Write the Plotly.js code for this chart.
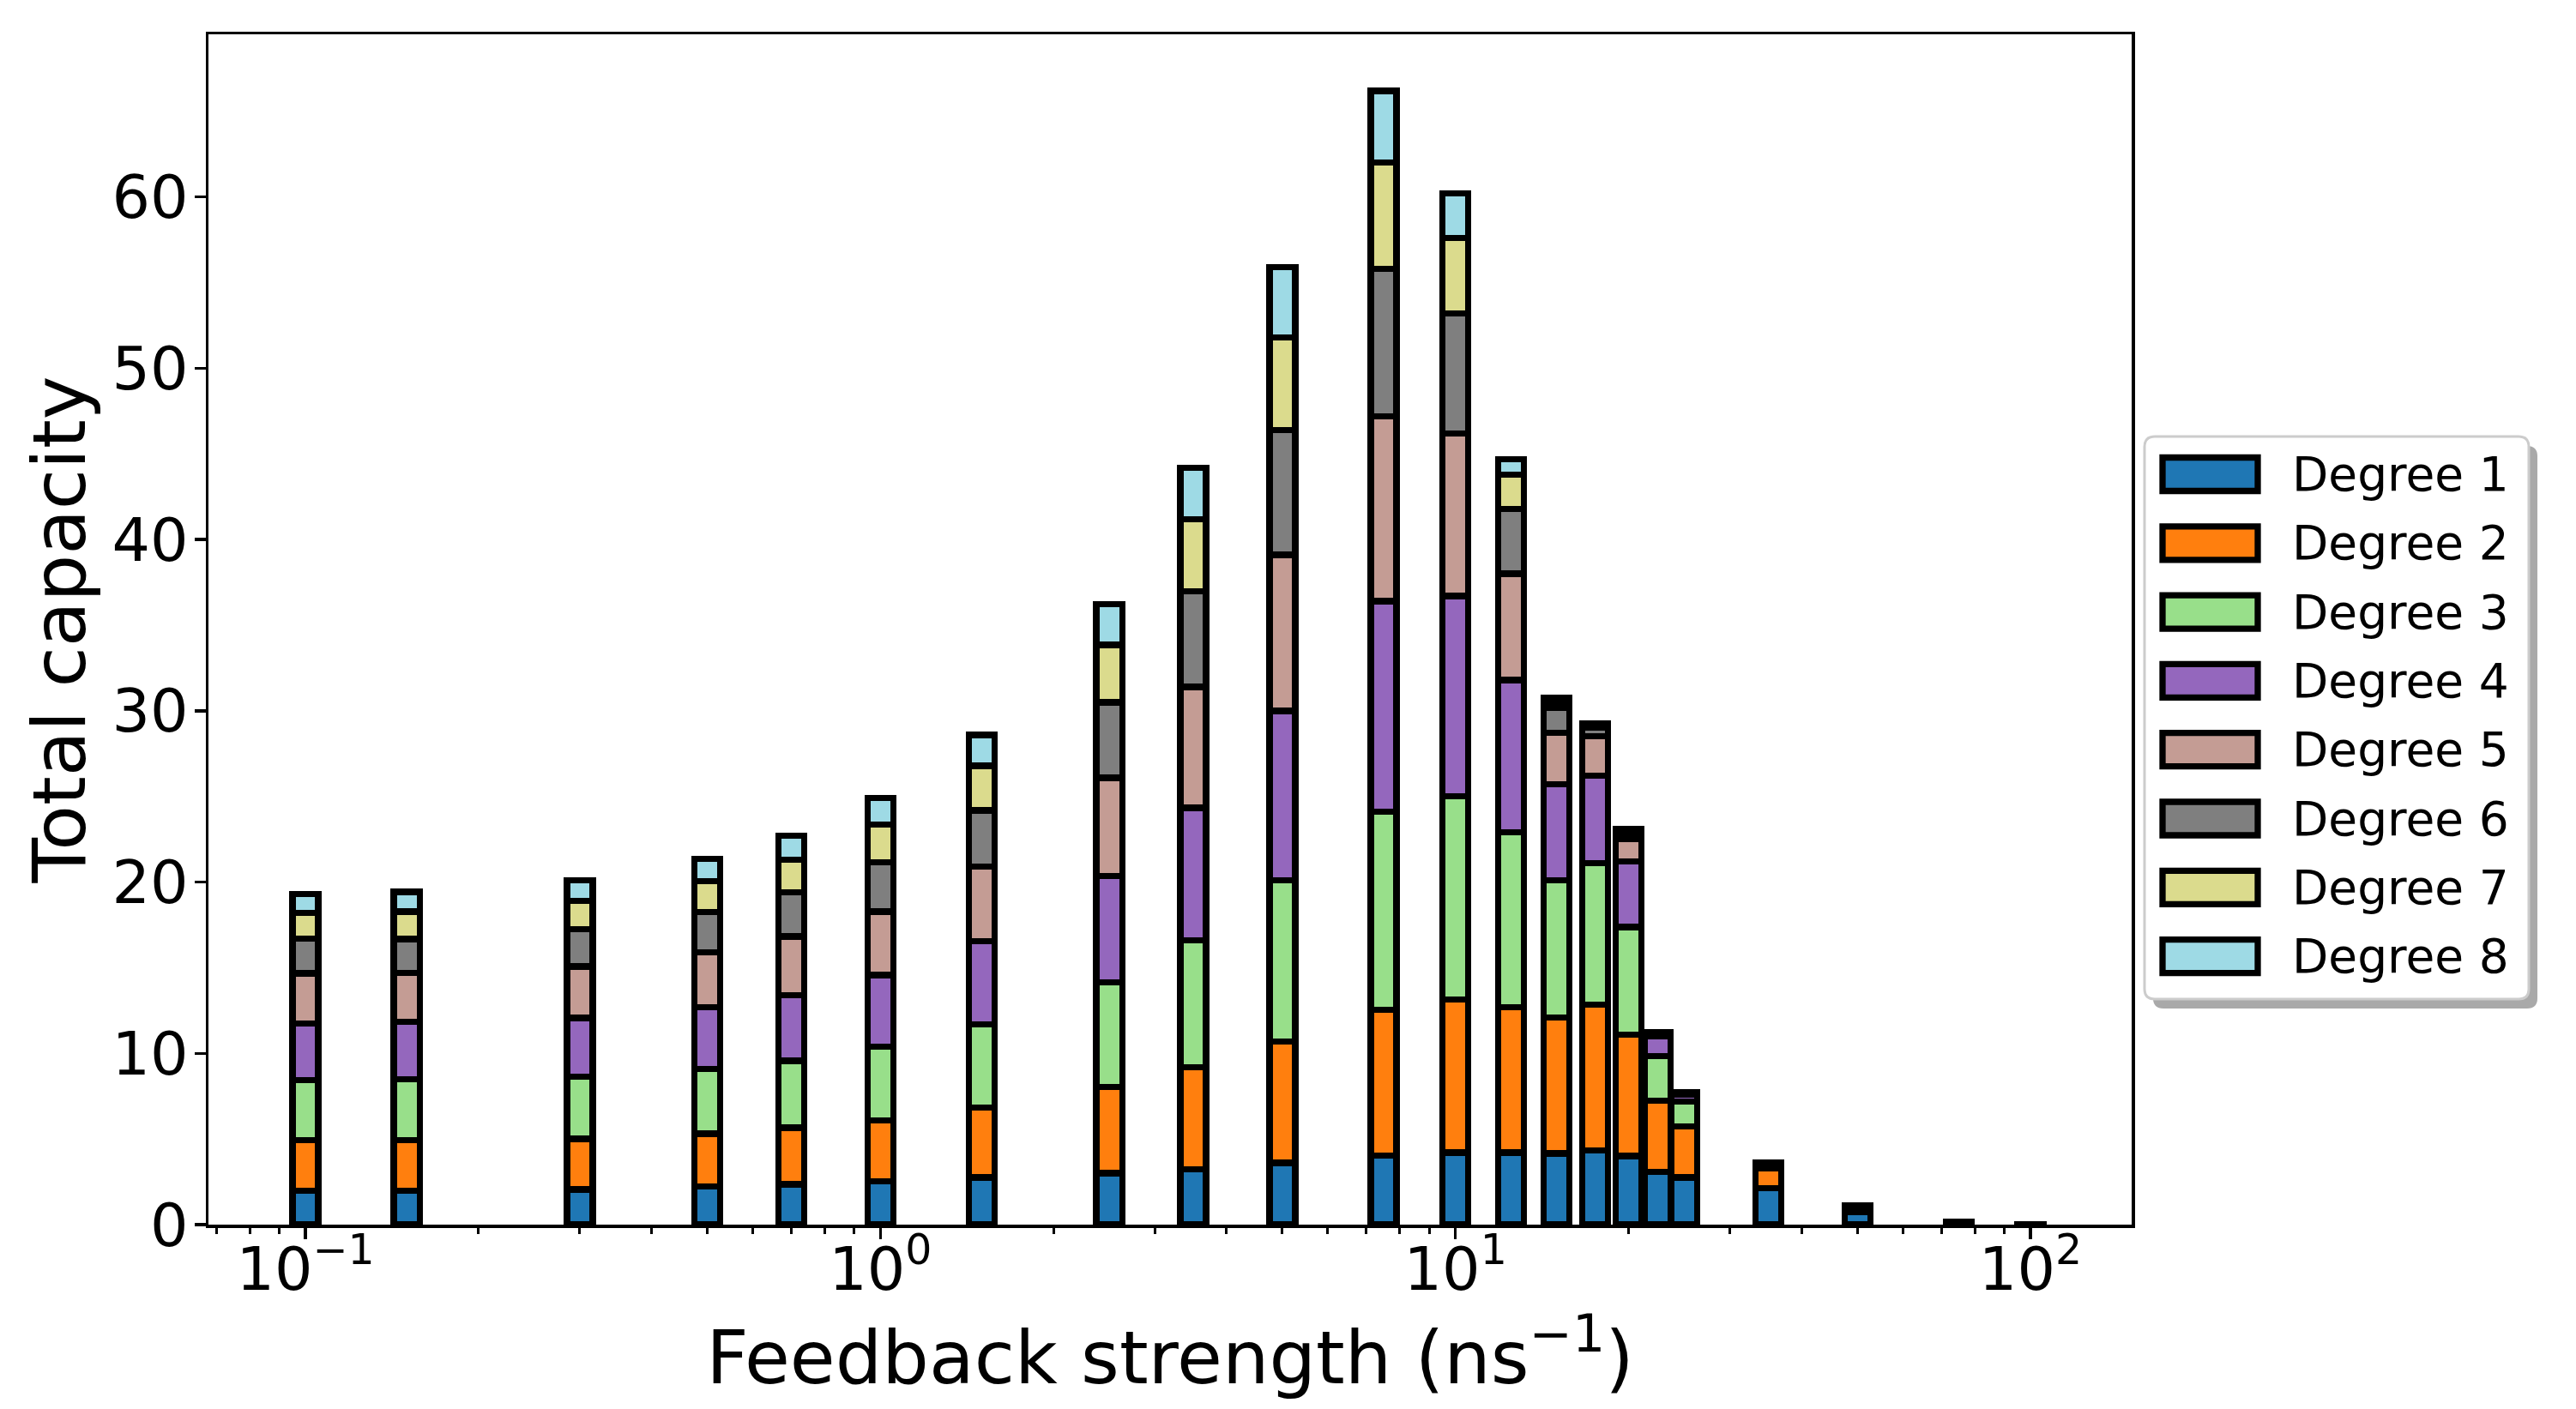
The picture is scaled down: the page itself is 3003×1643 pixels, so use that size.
<!DOCTYPE html>
<html>
<head>
<meta charset="utf-8">
<script src="https://cdn.plot.ly/plotly-3.0.1.min.js"></script>
<style>
  html, body { margin: 0; padding: 0; background: #ffffff; }
  #chart { width: 3003px; height: 1643px; }
</style>
</head>
<body>
<div id="chart"></div>
<script>
// feedback strength values (ns^-1), one stacked bar each
var feedback = [0.1, 0.15, 0.3, 0.5, 0.7, 1.0, 1.5, 2.5, 3.5, 5, 7.5, 10,
                12.5, 15, 17.5, 20, 22.5, 25, 35, 50, 75, 100];

// capacity per degree
var degree1 = [1.98, 1.98, 2.05, 2.23, 2.36, 2.52, 2.75, 3.0, 3.24, 3.6, 4.04, 4.2,
               4.2, 4.16, 4.34, 4.0, 3.08, 2.75, 2.13, 0.73, 0.1, 0.02];
var degree2 = [2.94, 2.94, 2.95, 3.08, 3.3, 3.58, 4.1, 5.04, 5.96, 7.1, 8.5, 8.96,
               8.5, 7.94, 8.5, 7.1, 4.17, 3.0, 1.15, 0.25, 0.04, 0.01];
var degree3 = [3.53, 3.58, 3.64, 3.78, 3.91, 4.29, 4.83, 6.12, 7.4, 9.4, 11.56, 11.84,
               10.2, 8.0, 8.26, 6.27, 2.6, 1.44, 0.22, 0.08, 0.01, 0];
var degree4 = [3.3, 3.33, 3.43, 3.62, 3.84, 4.18, 4.86, 6.21, 7.74, 9.9, 12.3, 11.7,
               8.9, 5.6, 5.1, 3.83, 1.15, 0.4, 0.08, 0.03, 0, 0];
var degree5 = [2.92, 2.85, 3.0, 3.2, 3.41, 3.7, 4.35, 5.72, 7.06, 9.1, 10.8, 9.5,
               6.2, 3.0, 2.3, 1.3, 0.13, 0.1, 0.03, 0.01, 0, 0];
var degree6 = [2.03, 2.0, 2.19, 2.35, 2.58, 2.89, 3.3, 4.4, 5.57, 7.3, 8.6, 7.0,
               3.8, 1.5, 0.5, 0.3, 0.05, 0.03, 0.02, 0, 0, 0];
var degree7 = [1.5, 1.6, 1.65, 1.8, 1.9, 2.19, 2.6, 3.36, 4.22, 5.4, 6.2, 4.4,
               2.0, 0.4, 0.15, 0.2, 0.03, 0.02, 0, 0, 0, 0];
var degree8 = [1.1, 1.15, 1.2, 1.3, 1.4, 1.55, 1.8, 2.39, 3.0, 4.1, 4.2, 2.6,
               0.9, 0.15, 0.1, 0.08, 0.02, 0.01, 0, 0, 0, 0];

var degreeNames = ['Degree 1', 'Degree 2', 'Degree 3', 'Degree 4',
                   'Degree 5', 'Degree 6', 'Degree 7', 'Degree 8'];
var degreeColors = ['#1f77b4', '#ff7f0e', '#98df8a', '#9467bd',
                    '#c49c94', '#7f7f7f', '#dbdb8d', '#9edae5'];

var xTickVals = [0.1, 1, 10, 100];
var xTickText = ['10<sup>\u22121</sup>', '10<sup>0</sup>', '10<sup>1</sup>', '10<sup>2</sup>'];
var xMinorVals = [0.07, 0.08, 0.09, 0.2, 0.3, 0.4, 0.5, 0.6, 0.7, 0.8, 0.9,
                  2, 3, 4, 5, 6, 7, 8, 9, 20, 30, 40, 50, 60, 70, 80, 90];
var yTickVals = [0, 10, 20, 30, 40, 50, 60];

var series = [degree1, degree2, degree3, degree4, degree5, degree6, degree7, degree8];

// plot box in page pixels
var PLOT_L = 243, PLOT_R = 2485, PLOT_T = 40, PLOT_B = 1428;
var EDGE = 7.3;
// bar width in decades, so every bar looks the same on the log axis
var LOG_WIDTH = 0.0448;

var half = Math.pow(10, LOG_WIDTH / 2);
var barWidths = feedback.map(function (x) { return x * (half - 1 / half); });
var barOffsets = feedback.map(function (x) { return x * (1 / half - 1); });

function px(xp) { return (xp - PLOT_L) / (PLOT_R - PLOT_L); }
function py(yp) { return (PLOT_B - yp) / (PLOT_B - PLOT_T); }

function roundRect(x0, y0, x1, y1, r) {
  return 'M' + px(x0 + r) + ',' + py(y0) +
    ' L' + px(x1 - r) + ',' + py(y0) +
    ' Q' + px(x1) + ',' + py(y0) + ' ' + px(x1) + ',' + py(y0 + r) +
    ' L' + px(x1) + ',' + py(y1 - r) +
    ' Q' + px(x1) + ',' + py(y1) + ' ' + px(x1 - r) + ',' + py(y1) +
    ' L' + px(x0 + r) + ',' + py(y1) +
    ' Q' + px(x0) + ',' + py(y1) + ' ' + px(x0) + ',' + py(y1 - r) +
    ' L' + px(x0) + ',' + py(y0 + r) +
    ' Q' + px(x0) + ',' + py(y0) + ' ' + px(x0 + r) + ',' + py(y0) + ' Z';
}

var traces = series.map(function (vals, i) {
  return {
    type: 'bar',
    name: degreeNames[i],
    x: feedback,
    y: vals,
    width: barWidths,
    offset: barOffsets,
    marker: { color: degreeColors[i], line: { color: '#000000', width: EDGE } },
    showlegend: false
  };
});

// legend drawn by hand so the swatches keep their wide matplotlib shape
var LEG = { x0: 2500, y0: 509, x1: 2948, y1: 1165, first: 553, step: 80.3 };
var shapes = [
  {
    type: 'path', xref: 'paper', yref: 'paper',
    path: roundRect(LEG.x0 + 10, LEG.y0 + 11, LEG.x1 + 10, LEG.y1 + 11, 12),
    fillcolor: '#a9a9a9', line: { width: 0 }
  },
  {
    type: 'path', xref: 'paper', yref: 'paper',
    path: roundRect(LEG.x0, LEG.y0, LEG.x1, LEG.y1, 12),
    fillcolor: '#ffffff', line: { color: '#cccccc', width: 3 }
  }
];
var annotations = [];
degreeNames.forEach(function (name, i) {
  var cy = LEG.first + LEG.step * i;
  shapes.push({
    type: 'rect', xref: 'paper', yref: 'paper',
    x0: px(2521), x1: px(2632), y0: py(cy - 19.5), y1: py(cy + 19.5),
    fillcolor: degreeColors[i], line: { color: '#000000', width: EDGE }
  });
  annotations.push({
    xref: 'paper', yref: 'paper', x: px(2670), y: py(cy),
    xanchor: 'left', yanchor: 'middle', showarrow: false,
    text: name, font: { size: 55, color: '#000000' }
  });
});

var axisCommon = {
  showline: true, linecolor: '#000000', linewidth: 3.5, mirror: true,
  showgrid: false, zeroline: false,
  ticks: 'outside', ticklen: 13, tickwidth: 3.5, tickcolor: '#000000',
  tickfont: { size: 70, color: '#000000' },
  automargin: false
};

var layout = {
  width: 3003,
  height: 1643,
  margin: { l: PLOT_L, r: 3003 - PLOT_R, t: PLOT_T, b: 1643 - PLOT_B, pad: 0 },
  barmode: 'stack',
  paper_bgcolor: '#ffffff',
  plot_bgcolor: '#ffffff',
  font: { family: 'DejaVu Sans, sans-serif', color: '#000000' },
  showlegend: false,
  xaxis: Object.assign({}, axisCommon, {
    type: 'log',
    range: [Math.log10(0.0678), Math.log10(150)],
    tickmode: 'array',
    tickvals: xTickVals,
    ticktext: xTickText,
    ticklabelstandoff: -25,
    minor: {
      tickmode: 'array', tickvals: xMinorVals,
      ticks: 'outside', ticklen: 7, tickwidth: 3, tickcolor: '#000000', showgrid: false
    },
    title: { text: 'Feedback strength (ns<sup>\u22121</sup>)', font: { size: 86 }, standoff: 31 }
  }),
  yaxis: Object.assign({}, axisCommon, {
    range: [0, 69.5],
    tickmode: 'array',
    tickvals: yTickVals,
    ticklabelstandoff: -7,
    title: { text: 'Total capacity', font: { size: 86 }, standoff: 3 }
  }),
  shapes: shapes,
  annotations: annotations
};

Plotly.newPlot('chart', traces, layout, { displayModeBar: false, staticPlot: true });
</script>
</body>
</html>
